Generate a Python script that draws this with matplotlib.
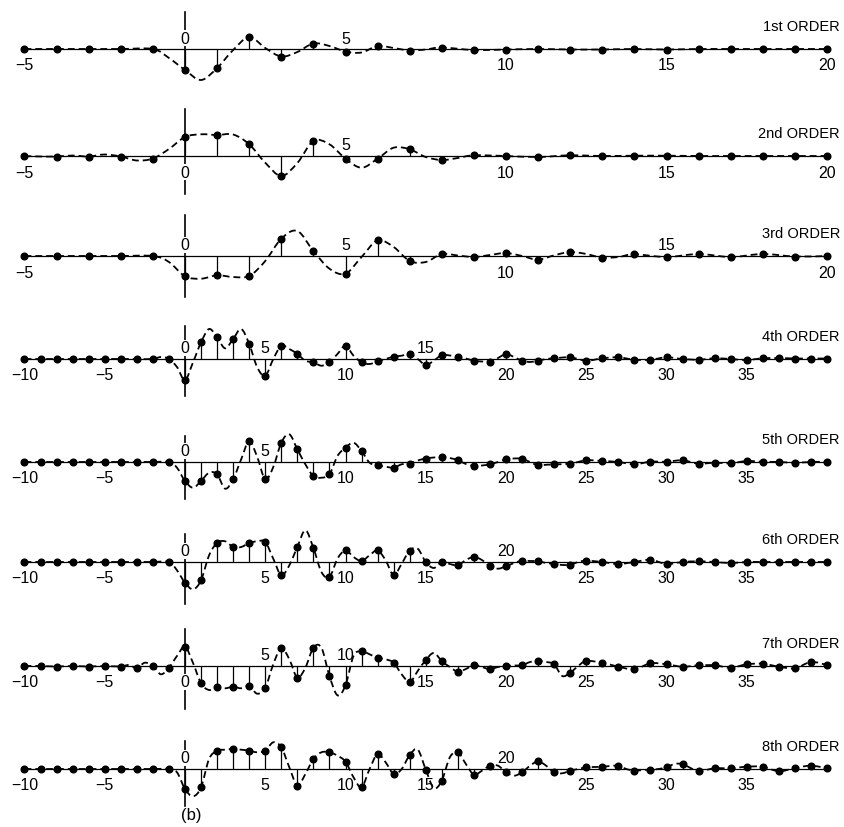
import numpy as np
import matplotlib
matplotlib.use('Agg')
import matplotlib.pyplot as plt
from matplotlib.path import Path
from matplotlib.patches import PathPatch

plt.rcParams['font.family'] = ['Liberation Sans', 'DejaVu Sans']

# sample index ranges
n_short = np.arange(-5, 21)     # orders 1-3
n_long = np.arange(-10, 41)     # orders 4-8

order1 = [0, 0, 0, 0, 0,
          -21, -19, 12, -7.5, 5.5, -2.5, 3, -1.5, 1.5, -1,
          -0.5, 0, -0.5, -0.5, 0, -0.5, 0, 0, 0, 0, 0]
order2 = [0, -0.5, -0.5, -0.5, -2.5,
          19, 21, 11.7, -20, 15, -2.7, -2.7, 6.7, -4, 0.7,
          0, -1, 0.7, 0, 0.3, 0.3, 0, 0, 0, 0, 0]
order3 = [0, 0, 0, 0, 0,
          -20.3, -19.3, -20, 17.3, 5, -17.7, 15.7, -5, 2, -1,
          3, -3.7, 4, -1.7, 1.7, -1, 2, -1, 2, -0.5, 0]
order4 = [0, 0, 0, 0, 0, 0, 0, 0, 0, 0,
          -21, 16.7, 21.7, 20, 15, -16.7, 13.3, 5, -3.3, -3.3,
          13.3, -3.3, -2.3, 2.3, 5, -6, 4, 2.3, -1.7, -2.7,
          5, -1.7, -1.7, 0.7, 1.7, -1.7, 0.7, 1.7, -0.7, -0.7,
          1.7, 0, -0.7, 0.7, 0, -1, 0.7, 1, 0.5, 0.5, 0.5]
order5 = [0, 0, 0, 0, 0, 0, 0, 0, 0, 0,
          -19, -19, -12.3, -17.3, 21, -17.3, 19.3, 12.7, -14, -12.3,
          14.3, 11, -3.3, -5.7, -1.5, 3.5, 5, 1.7, -4, -2.3,
          2.7, 3.3, -3, -2.3, -1.7, 1.7, 1, 0, -2.3, 0.3,
          0.3, 1.7, -1.7, -0.7, -1.3, 1, 0.3, 0, -0.7, 0, 0.3]
order6 = [0, 0, 0, 0, 0, 0, 0, 0, 0, 0,
          -20.7, -18.3, 19, 15, 19, 20, -13.3, 15, 14, -15,
          11.7, 1, 11.7, -13.3, 11.5, 0, 0, -3.3, 5, -4.3,
          -4.3, 1.3, 0.7, -2, -2.7, 1.3, 0, -2, 0, 2.3,
          -2, 0, 0.7, 0, -1, 0, 0, 0, 0, 0, 0]
order7 = [0, 0, -0.5, 0, -0.5, 0, -0.5, -2, 0, -1.7,
          19.3, -17.3, -20.7, -20.7, -20, -21.7, 18.3, -11.7, 18.3, -10,
          -19.3, 15, 8.3, 3.3, -16, 6, 5, -5.7, 1, -3.3,
          0, 0.7, 5, 1.7, -6.7, 5, 3.3, -0.7, -3.3, 2.7,
          1.7, -0.7, 0.7, 0.7, -1.7, 1.7, 2.3, -0.7, -2.3, 4, 1]
order8 = [0, 0, 0, 0, 0, 0, 0, 0, 0, 0,
          -20, -18.3, 18.3, 20, 18.3, 18.3, 21.7, -16.7, 10, 16.7,
          7.3, -18.3, 15, -5, 14, -0.5, -11.7, 16.7, -5.7, 3.3,
          -3.3, -3.3, 7.7, -3.3, -1.7, 1.7, 2.3, 3.3, -1.7, -0.7,
          1.7, 5, -2.3, 0.7, 0.7, 2.3, 2.3, -2.3, 1, 3.3, 0.7]

# dashed continuous response read at half-sample points (first one at start + 0.5)
order1_mid_start = -1
order1_mid = [-9, -31, -1, 1, -3, 3, -3.5, 1, -0.5]
order2_mid_start = -5
order2_mid = [-0.5, 0.5, 1.5, -4.5, 7, 21.7, 21.5, -6.7, -7, 11.7, -11.7, 8.3, -1, -2]
order3_mid_start = -1
order3_mid = [-6, -22.7, -21, -5, 25, -12.7, -1, 9, -6, 0.5, 1, 0, 0.7, 2, -1]
order4_mid_start = -2
order4_mid = [2, -8, -3.3, 30, 10.7, 30, -8.3, 0, 10, -1.7, -6.7, 5, 3.3, -5,
              0, 3.3, 0, -1.7, 3.5, 0.5, -2.5, 1, 2, -3, 0]
order5_mid_start = -1
order5_mid = [-5.7, -25.7, -10.7, -26.7, 2.7, 5, -5, 27.7, -2.3, -15.7, 6, 19.3,
              -0.7, -4.7, -2.3, 1.5, 4.5, 4, -2, -3.5, 0, 3.5, 0]
order6_mid_start = -1
order6_mid = [-8.3, -27.3, 6.7, 20.7, 15, 20.7, 3.3, -3.3, 31.7, -10, 3.3, 5, 6.7,
              1.7, -1.7, 13.3, -6, -2, 2, 2, -6.7, -1, 1, -1, -3, 0]
order7_mid_start = -4
order7_mid = [1, 3.3, -8.3, 10, 3, -24, -22.3, -22.3, -27.7, 1.7, 6.7, -1.7, 18.3,
              -29.3, 10, 11.7, 6.7, -8.3, -5, 13, -1, -3, -1, -1, 0.5, 4, 4, -10, 0]
order8_mid_start = -1
order8_mid = [-3.3, -27.3, 10, 19.3, 19.3, 16.7, 26.7, 1.7, -5, 16.7, 13.3, -8.3,
              0, 6.7, 0, 19.5, -19, 11.7, 5, -1.7, 3.3, -6.7, 3.3, 3.3, -4.3, 0,
              2, 3, 0, -1, 0, 5, 1]

order_names = ['1st ORDER', '2nd ORDER', '3rd ORDER', '4th ORDER',
               '5th ORDER', '6th ORDER', '7th ORDER', '8th ORDER']

# tick numbers and whether each is printed above (1) or below (0) the axis
ticks_short = [-5, 0, 5, 10, 15, 20]
ticks_long = [-10, -5, 0, 5, 10, 15, 20, 25, 30, 35]
tick_above = [
    [0, 1, 1, 0, 0, 0],
    [0, 0, 1, 0, 0, 0],
    [0, 1, 1, 0, 1, 0],
    [0, 0, 1, 1, 0, 1, 0, 0, 0, 0],
    [0, 0, 1, 1, 0, 0, 0, 0, 0, 0],
    [0, 0, 1, 0, 0, 0, 1, 0, 0, 0],
    [0, 0, 0, 1, 1, 0, 0, 0, 0, 0],
    [0, 0, 1, 0, 0, 0, 1, 0, 0, 0],
]

panels = [
    (n_short, order1, order1_mid_start, order1_mid),
    (n_short, order2, order2_mid_start, order2_mid),
    (n_short, order3, order3_mid_start, order3_mid),
    (n_long, order4, order4_mid_start, order4_mid),
    (n_long, order5, order5_mid_start, order5_mid),
    (n_long, order6, order6_mid_start, order6_mid),
    (n_long, order7, order7_mid_start, order7_mid),
    (n_long, order8, order8_mid_start, order8_mid),
]

# layout (pixels)
W, H = 845, 828
baselines = [50, 157, 257, 360, 463, 563, 667, 770]
zero_marks = [(-21, 37), (-38, 47), (-41, 41), (-37, 33),
              (-37, 26), (-42, 28), (-43, 37), (-37, 28)]


def smooth_path(x, y):
    # Catmull-Rom through the points, as cubic Bezier segments
    verts = [(x[0], y[0])]
    codes = [Path.MOVETO]
    m = len(x)
    for i in range(m - 1):
        xa, ya = (x[i - 1], y[i - 1]) if i > 0 else (x[i], y[i])
        xb, yb = (x[i + 2], y[i + 2]) if i + 2 < m else (x[i + 1], y[i + 1])
        c1 = (x[i] + (x[i + 1] - xa) / 6, y[i] + (y[i + 1] - ya) / 6)
        c2 = (x[i + 1] - (xb - x[i]) / 6, y[i + 1] - (yb - y[i]) / 6)
        verts += [c1, c2, (x[i + 1], y[i + 1])]
        codes += [Path.CURVE4] * 3
    return Path(verts, codes)


fig = plt.figure(figsize=(W / 100, H / 100), dpi=100)

for k, (n, vals, mstart, mids) in enumerate(panels):
    yb = baselines[k]
    ax = fig.add_axes([0, 1 - (yb + 55) / H, 1, 110 / H])
    ax.patch.set_alpha(0)
    ax.axis('off')
    per_unit = 32.1 if len(n) < 30 else 16.05
    ax.set_xlim(-185 / per_unit, (W - 185) / per_unit)
    ax.set_ylim(-55, 55)

    vals = np.array(vals, dtype=float)
    ax.plot([n[0], n[-1]], [0, 0], color='black', lw=0.9, zorder=2)
    ax.vlines(n, 0, vals, color='black', lw=0.9, zorder=2)
    ax.plot(n, vals, 'o', color='black', ms=4.8, zorder=4)

    # dashed continuous curve through samples and half-sample readings
    mid_x = mstart + 0.5 + np.arange(len(mids))
    xs = np.concatenate([n, mid_x])
    ys = np.concatenate([vals, mids])
    order = np.argsort(xs)
    path = smooth_path(xs[order], ys[order])
    ax.add_patch(PathPatch(path, fill=False, color='black', lw=1.3,
                           linestyle=(0, (3.8, 2.2)), zorder=3))

    lo, hi = zero_marks[k]
    ax.plot([0, 0], [lo, hi], color='black', lw=1.2, zorder=1)

    ticks = ticks_short if len(n) < 30 else ticks_long
    for t, up in zip(ticks, tick_above[k]):
        lab = str(t).replace('-', '\u2212')
        ax.text(t, 11 if up else -16, lab, ha='center', va='center',
                fontsize=11.5, zorder=1.5,
                bbox=dict(facecolor='white', edgecolor='none', pad=0.3))

    fig.text(840 / W, 1 - (yb - 23) / H, order_names[k], ha='right',
             va='center', fontsize=10.5)

fig.text(191 / W, 1 - 816 / H, '(b)', ha='center', va='center', fontsize=12)

fig.savefig('out.png', dpi=100, facecolor='white')
